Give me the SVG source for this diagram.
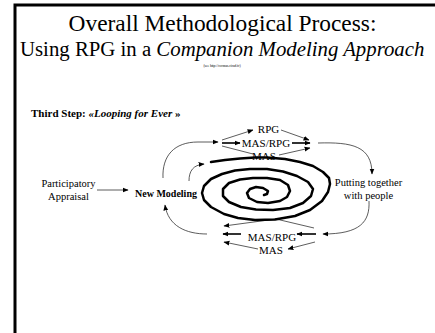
<svg xmlns="http://www.w3.org/2000/svg" width="435" height="333" viewBox="0 0 435 333">
<style>
.t{font-family:"Liberation Serif","Times New Roman",serif;fill:#000}
.thin{fill:none;stroke:#333;stroke-width:0.8}
.thick{fill:none;stroke:#333;stroke-width:2}
</style>
<defs>
<marker id="ah" viewBox="0 0 10 10" refX="9" refY="5" markerWidth="6" markerHeight="6" markerUnits="userSpaceOnUse" orient="auto"><path d="M0,1 L10,5 L0,9 z" fill="#000"/></marker>
</defs>
<rect width="435" height="333" fill="#fff"/>
<g id="frame">
<path d="M15,333 L15,5 L435,5" fill="none" stroke="#000" stroke-width="3"/>
</g>
<g id="title">
<text class="t" x="222.5" y="31" font-size="23.4" text-anchor="middle">Overall Methodological Process:</text>
<text class="t" x="20" y="56" font-size="20.8">Using RPG in a <tspan font-style="italic">Companion Modeling Approach</tspan></text>
<text class="t" x="222" y="67" font-size="3.5" text-anchor="middle">(see http://cormas.cirad.fr)</text>
<text class="t" x="31" y="117" font-size="11" font-weight="bold">Third Step: <tspan font-style="italic">«Looping for Ever</tspan> »</text>
</g>
<g id="connectors">
<path class="thin" d="M97,190 L128,190" marker-end="url(#ah)"/>
<path class="thin" d="M163,178 C162,156 174,142 198,142 L218,142" marker-end="url(#ah)"/>
<path class="thin" d="M189,181 C189,171 193,165 204,164" marker-end="url(#ah)"/>
<path class="thin" d="M222,140 L253,130" marker-end="url(#ah)"/>
<path class="thick" d="M222,143 L240,143" marker-end="url(#ah)"/>
<path class="thin" d="M222,146 L253,154"/>
<path class="thin" d="M281,130 L309,140" marker-end="url(#ah)"/>
<path class="thick" d="M292,143 L310,143" marker-end="url(#ah)"/>
<path class="thin" d="M279,155 L310,148" marker-end="url(#ah)"/>
<path class="thin" d="M318,143 C352,142 372,146 372,174" marker-end="url(#ah)"/>
<path class="thin" d="M369,201 C370,222 360,234 323,234" marker-end="url(#ah)"/>
<path class="thick" d="M316,234 L297,234" marker-end="url(#ah)"/>
<path class="thin" d="M314,228 L276,219 L224,226" marker-end="url(#ah)"/>
<path class="thin" d="M315,242 L288,249" marker-end="url(#ah)"/>
<path class="thick" d="M241,234 L223,234" marker-end="url(#ah)"/>
<path class="thin" d="M258,249 L224,242" marker-end="url(#ah)"/>
<path class="thin" d="M207,234 C186,234 168,226 165,205" marker-end="url(#ah)"/>
</g>
<g id="participatory">
<text class="t" x="68.5" y="187" font-size="10.5" text-anchor="middle">Participatory</text>
<text class="t" x="68.5" y="200" font-size="10.5" text-anchor="middle">Appraisal</text>
</g>
<g id="new-modeling">
<text class="t" x="166" y="197" font-size="10" font-weight="bold" text-anchor="middle">New Modeling</text>
</g>
<g id="rpg-top"><text class="t" x="268.5" y="133" font-size="11" text-anchor="middle">RPG</text></g>
<g id="masrpg-top"><text class="t" x="266" y="147" font-size="11" text-anchor="middle">MAS/RPG</text></g>
<g id="mas-top"><text class="t" x="264" y="160" font-size="11" text-anchor="middle">MAS</text></g>
<g id="putting-together">
<text class="t" x="368.5" y="186" font-size="10.5" text-anchor="middle">Putting together</text>
<text class="t" x="368.5" y="199" font-size="10.5" text-anchor="middle">with people</text>
</g>
<g id="masrpg-bottom"><text class="t" x="272" y="241" font-size="11" text-anchor="middle">MAS/RPG</text></g>
<g id="mas-bottom"><text class="t" x="271" y="254" font-size="11" text-anchor="middle">MAS</text></g>
<g id="spiral">
<polyline fill="none" stroke="#000" stroke-width="2.5" stroke-linejoin="round" stroke-linecap="round" points="211,162 225,160 240,158.5 255,157.5 267,157.5 285,159 300,162 313,166 323,172 329,178 330,184 328,192 322,201 310,210 295,216 275,219.5 255,220 238,218 224,214 211,207 204,200 202,193 204,186 211,179 222,174 235,170.5 250,169 267,169 283,171.5 297,176 308,182 313,189 311,196 303,203 290,208 273,210 256,209.5 241,207 229,202 223,196 223,189 229,183 240,179.5 253,178 267,178 280,180 288,185 290,191 287,197 280,201 268,203 257,202 249,198 247,193 250,189 256,187 263,188 268,191 267,194 264,195"/>
</g>
</svg>
